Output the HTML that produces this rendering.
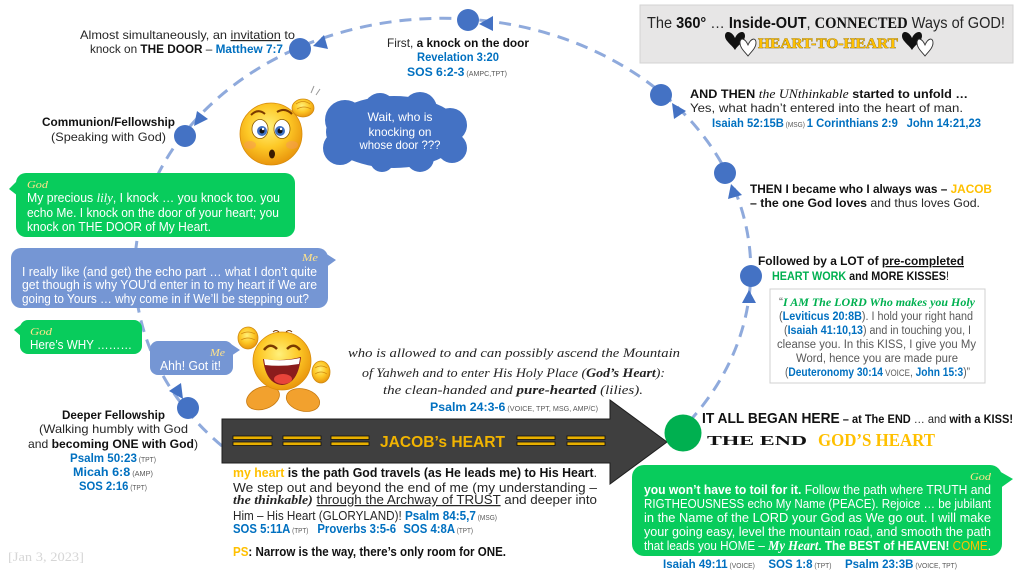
<!DOCTYPE html>
<html><head><meta charset="utf-8">
<style>
html,body{margin:0;padding:0;background:#fff;}
body{width:1022px;height:575px;overflow:hidden;}
svg{display:block;}
text{font-family:"Liberation Sans",sans-serif;font-size:12px;fill:#262626;}
.b{font-weight:bold;fill:#111;}
.bl{fill:#0070c0;font-weight:bold;}
.sm{font-size:7px;fill:#595959;font-weight:normal;}
.gd{fill:#ffc000;}
.sc{font-family:"Liberation Serif",serif;font-style:italic;}
.w{fill:#fff;font-size:12.5px;}
.lab{fill:#ffe38a;font-size:11px;font-family:"Liberation Serif",serif;font-style:italic;}
.gy{fill:#595959;font-size:11.5px;}
</style></head>
<body>
<svg width="1022" height="575" viewBox="0 0 1022 575" xmlns="http://www.w3.org/2000/svg">
<defs>
<radialGradient id="face" cx="45%" cy="38%" r="62%">
<stop offset="0" stop-color="#fff07a"/><stop offset="0.55" stop-color="#fdc826"/><stop offset="1" stop-color="#e9960d"/>
</radialGradient>
</defs>
<rect width="1022" height="575" fill="#fff"/>

<!-- dashed path -->
<path d="M 222 446 A 308 252 0 1 1 683 428" fill="none" stroke="#8faadc" stroke-width="3" stroke-dasharray="12 8"/>

<!-- nodes -->
<g fill="#4472c4">
<circle cx="468" cy="20" r="11"/>
<circle cx="300" cy="49" r="11"/>
<circle cx="185" cy="136" r="11"/>
<circle cx="188" cy="408" r="11"/>
<circle cx="661" cy="95" r="11"/>
<circle cx="725" cy="173" r="11"/>
<circle cx="751" cy="276" r="11"/>
<polygon points="479,24 493,16 493,31"/>
<polygon points="313,46 328,49 324,35"/>
<polygon points="194,126 208,119 197,111"/>
<polygon points="183,399 181,383 169,391"/>
<polygon points="672,103 686,111 674,119"/>
<polygon points="731,184 742,195 728,199"/>
<polygon points="749,290 756,303 742,303"/>
</g>

<!-- title box -->
<rect x="640" y="5" width="373" height="58" fill="#e7e6e6" stroke="#d3d3d3" stroke-width="1"/>
<g transform="translate(735,33)"><path d="M0,5 C-3,-2 -10,-3 -10,3 C-10,8 -3,12 0,17 C3,12 10,8 10,3 C10,-3 3,-2 0,5 Z" fill="#111"/></g>
<g transform="translate(748,40)"><path d="M0,5 C-3,-2 -8,-3 -8,3 C-8,8 -3,12 0,16 C3,12 8,8 8,3 C8,-3 3,-2 0,5 Z" fill="#fff" stroke="#333" stroke-width="0.9"/></g>
<g transform="translate(912,33)"><path d="M0,5 C-3,-2 -10,-3 -10,3 C-10,8 -3,12 0,17 C3,12 10,8 10,3 C10,-3 3,-2 0,5 Z" fill="#111"/></g>
<g transform="translate(925,40)"><path d="M0,5 C-3,-2 -8,-3 -8,3 C-8,8 -3,12 0,16 C3,12 8,8 8,3 C8,-3 3,-2 0,5 Z" fill="#fff" stroke="#333" stroke-width="0.9"/></g>

<!-- cloud -->
<g fill="#4472c4">
<ellipse cx="394" cy="132" rx="68" ry="36"/>
<circle cx="345" cy="120" r="20"/>
<circle cx="380" cy="109" r="16"/>
<circle cx="420" cy="109" r="17"/>
<circle cx="450" cy="125" r="17"/>
<circle cx="452" cy="148" r="15"/>
<circle cx="420" cy="158" r="14"/>
<circle cx="382" cy="160" r="12"/>
<circle cx="340" cy="148" r="17"/>
</g>

<!-- bubbles -->
<g fill="#08cc5c">
<rect x="16" y="173" width="279" height="64" rx="10"/>
<polygon points="18,180 9,189 18,196"/>
<rect x="20" y="320" width="122" height="34" rx="8"/>
<polygon points="22,324 14,330 22,337"/>
<rect x="632" y="465" width="370" height="91" rx="12"/>
<polygon points="999,471 1013,479 999,489"/>
</g>
<g fill="#7596d4">
<rect x="11" y="248" width="317" height="60" rx="10"/>
<polygon points="325,253 336,260 325,268"/>
<rect x="150" y="341" width="83" height="34" rx="8"/>
<polygon points="231,344 240,350 231,356"/>
</g>

<!-- right box -->
<rect x="770" y="289" width="215" height="94" fill="#fff" stroke="#d0d0d0" stroke-width="1"/>

<!-- big arrow -->
<polygon points="222,419 610,419 610,400 667,442 610,484 610,463 222,463" fill="#3f3f3f" stroke="#1e1e1e" stroke-width="1"/>
<g fill="#e8b000" stroke="#111" stroke-width="0.8">
<rect x="233" y="436" width="39" height="3.5"/><rect x="233" y="442" width="39" height="3.5"/>
<rect x="283" y="436" width="38" height="3.5"/><rect x="283" y="442" width="38" height="3.5"/>
<rect x="331" y="436" width="38" height="3.5"/><rect x="331" y="442" width="38" height="3.5"/>
<rect x="517" y="436" width="38" height="3.5"/><rect x="517" y="442" width="38" height="3.5"/>
<rect x="567" y="436" width="38" height="3.5"/><rect x="567" y="442" width="38" height="3.5"/>
</g>
<circle cx="683" cy="433" r="18.5" fill="#00b050"/>

<!-- confused emoji -->
<g>
<circle cx="271" cy="134" r="31" fill="url(#face)" stroke="#d98c0a" stroke-width="0.8"/>
<ellipse cx="250" cy="145" rx="6" ry="4" fill="#f59a5a" opacity="0.5"/>
<ellipse cx="292" cy="145" rx="6" ry="4" fill="#f59a5a" opacity="0.5"/>
<ellipse cx="260" cy="129" rx="8" ry="9.5" fill="#fff" stroke="#8a5a00" stroke-width="0.8"/>
<ellipse cx="282" cy="129" rx="8" ry="9.5" fill="#fff" stroke="#8a5a00" stroke-width="0.8"/>
<circle cx="262" cy="131" r="5" fill="#3d6fc0"/><circle cx="262" cy="131" r="2.5" fill="#111"/><circle cx="263" cy="129" r="1.2" fill="#fff"/>
<circle cx="280" cy="131" r="5" fill="#3d6fc0"/><circle cx="280" cy="131" r="2.5" fill="#111"/><circle cx="281" cy="129" r="1.2" fill="#fff"/>
<path d="M251 115 Q258 108 265 114" stroke="#7a3a00" stroke-width="2" fill="none"/>
<path d="M277 112 Q285 107 292 114" stroke="#7a3a00" stroke-width="2" fill="none"/>
<ellipse cx="272" cy="154" rx="3" ry="4.5" fill="#3a1a00"/>
<ellipse cx="303" cy="108" rx="11" ry="9" fill="url(#face)" stroke="#d08a10" stroke-width="0.8"/>
<path d="M296 104 Q303 99 310 104 M297 109 Q304 105 311 109" stroke="#d08a10" stroke-width="0.8" fill="none"/>
<path d="M311 93 L314 86 M316 95 L320 89" stroke="#999" stroke-width="1"/>
</g>

<!-- laughing emoji -->
<g>
<ellipse cx="263" cy="398" rx="17" ry="11" transform="rotate(-20 263 398)" fill="#f2a12e" stroke="#c77a10" stroke-width="0.8"/>
<ellipse cx="303" cy="400" rx="17" ry="11" transform="rotate(15 303 400)" fill="#f2a12e" stroke="#c77a10" stroke-width="0.8"/>
<circle cx="282" cy="361" r="29" fill="url(#face)" stroke="#d98c0a" stroke-width="0.8"/>
<path d="M264 350 Q270 342 277 349" stroke="#7a3a00" stroke-width="2.5" fill="none"/>
<path d="M287 349 Q294 342 300 350" stroke="#7a3a00" stroke-width="2.5" fill="none"/>
<path d="M273 332 Q276 329 279 332 M286 332 Q289 329 292 332" stroke="#7a3a00" stroke-width="1" fill="none"/>
<path d="M263 359 Q282 362 301 357 Q298 384 282 385 Q266 384 263 359 Z" fill="#8b1c1c"/>
<path d="M264 359 Q282 362 300 358 L299 364 Q282 367 265 365 Z" fill="#fff"/>
<ellipse cx="283" cy="379" rx="9" ry="5" fill="#e8443a"/>
<ellipse cx="248" cy="338" rx="10" ry="11" fill="url(#face)" stroke="#d08a10" stroke-width="0.8"/>
<path d="M241 334 Q248 330 255 334 M241 340 Q248 336 255 340" stroke="#d08a10" stroke-width="0.7" fill="none"/>
<ellipse cx="321" cy="372" rx="9" ry="11" fill="url(#face)" stroke="#d08a10" stroke-width="0.8"/>
<path d="M315 368 Q321 364 327 368 M315 374 Q321 370 327 374" stroke="#d08a10" stroke-width="0.7" fill="none"/>
</g>

<!-- ===== TEXT ===== -->
<text x="80" y="39" textLength="215" lengthAdjust="spacingAndGlyphs">Almost simultaneously, an <tspan text-decoration="underline">invitation</tspan> to</text>
<text x="90" y="53" textLength="193" lengthAdjust="spacingAndGlyphs">knock on <tspan class="b">THE DOOR</tspan> – <tspan class="bl">Matthew 7:7</tspan></text>
<text x="42" y="126" textLength="133" lengthAdjust="spacingAndGlyphs" class="b">Communion/Fellowship</text>
<text x="51" y="141" textLength="115" lengthAdjust="spacingAndGlyphs">(Speaking with God)</text>

<text x="387" y="47" textLength="142" lengthAdjust="spacingAndGlyphs">First, <tspan class="b">a knock on the door</tspan></text>
<text x="417" y="61" textLength="82" lengthAdjust="spacingAndGlyphs" class="bl">Revelation 3:20</text>
<text x="407" y="76" textLength="100" lengthAdjust="spacingAndGlyphs"><tspan class="bl">SOS 6:2-3</tspan><tspan class="sm"> (AMPC,TPT)</tspan></text>

<text x="400" y="121" text-anchor="middle" textLength="65" lengthAdjust="spacingAndGlyphs" style="fill:#fff">Wait, who is</text>
<text x="400" y="136" text-anchor="middle" textLength="63" lengthAdjust="spacingAndGlyphs" style="fill:#fff">knocking on</text>
<text x="400" y="149" text-anchor="middle" textLength="81" lengthAdjust="spacingAndGlyphs" style="fill:#fff">whose door ???</text>

<text x="647" y="28" textLength="358" lengthAdjust="spacingAndGlyphs" style="font-size:16px">The <tspan class="b">360°</tspan> … <tspan class="b">Inside-OUT</tspan>, <tspan class="b" style="font-family:'Liberation Serif',serif">CONNECTED</tspan> Ways of GOD!</text>
<text x="758" y="48" textLength="140" lengthAdjust="spacingAndGlyphs" style="font-family:'Liberation Serif',serif;font-weight:bold;font-size:15px;fill:#ffc000;stroke:#6b5000;stroke-width:0.6;paint-order:stroke">HEART-TO-HEART</text>

<text x="690" y="98" textLength="278" lengthAdjust="spacingAndGlyphs"><tspan class="b">AND THEN </tspan><tspan class="sc" style="font-size:13px;fill:#111">the UNthinkable</tspan><tspan class="b"> started to unfold …</tspan></text>
<text x="690" y="112" textLength="273" lengthAdjust="spacingAndGlyphs">Yes, what hadn’t entered into the heart of man.</text>
<text x="712" y="127" textLength="269" lengthAdjust="spacingAndGlyphs"><tspan class="bl">Isaiah 52:15B</tspan><tspan class="sm"> (MSG) </tspan><tspan class="bl"> 1 Corinthians 2:9 </tspan><tspan class="bl" dx="6">John 14:21,23</tspan></text>

<text x="750" y="193" textLength="242" lengthAdjust="spacingAndGlyphs"><tspan class="b">THEN I became who I always was – </tspan><tspan class="gd" style="font-weight:bold">JACOB</tspan></text>
<text x="750" y="207" textLength="230" lengthAdjust="spacingAndGlyphs"><tspan class="b">– the one God loves</tspan> and thus loves God.</text>

<text x="758" y="265" textLength="206" lengthAdjust="spacingAndGlyphs" class="b">Followed by a LOT of <tspan text-decoration="underline">pre-completed</tspan></text>
<text x="772" y="280" textLength="177" lengthAdjust="spacingAndGlyphs"><tspan class="b" style="fill:#00b050">HEART WORK</tspan><tspan class="b"> and MORE KISSES</tspan>!</text>

<text x="779" y="306" textLength="196" lengthAdjust="spacingAndGlyphs" class="gy">“<tspan style="fill:#00b050;font-weight:bold;font-family:'Liberation Serif',serif;font-style:italic">I AM The LORD Who makes you Holy</tspan></text>
<text x="779" y="320" textLength="194" lengthAdjust="spacingAndGlyphs" class="gy">(<tspan class="bl">Leviticus 20:8B</tspan>). I hold your right hand</text>
<text x="784" y="334" textLength="187" lengthAdjust="spacingAndGlyphs" class="gy">(<tspan class="bl">Isaiah 41:10,13</tspan>) and in touching you, I</text>
<text x="777" y="348" textLength="199" lengthAdjust="spacingAndGlyphs" class="gy">cleanse you. In this KISS, I give you My</text>
<text x="796" y="362" textLength="162" lengthAdjust="spacingAndGlyphs" class="gy">Word, hence you are made pure</text>
<text x="785" y="376" textLength="185" lengthAdjust="spacingAndGlyphs" class="gy">(<tspan class="bl">Deuteronomy 30:14</tspan><tspan style="font-size:9px"> VOICE</tspan>, <tspan class="bl">John 15:3</tspan>)”</text>

<text x="27" y="188" textLength="21" lengthAdjust="spacingAndGlyphs" class="lab">God</text>
<text x="27" y="202" textLength="253" lengthAdjust="spacingAndGlyphs" class="w">My precious <tspan class="sc" style="font-size:13px">lily</tspan>, I knock … you knock too. you</text>
<text x="27" y="217" textLength="252" lengthAdjust="spacingAndGlyphs" class="w">echo Me. I knock on the door of your heart; you</text>
<text x="27" y="231" textLength="184" lengthAdjust="spacingAndGlyphs" class="w">knock on THE DOOR of My Heart.</text>

<text x="302" y="261" textLength="16" lengthAdjust="spacingAndGlyphs" class="lab">Me</text>
<text x="22" y="276" textLength="295" lengthAdjust="spacingAndGlyphs" class="w">I really like (and get) the echo part … what I don’t quite</text>
<text x="22" y="289" textLength="295" lengthAdjust="spacingAndGlyphs" class="w">get though is why YOU’d enter in to my heart if We are</text>
<text x="22" y="303" textLength="287" lengthAdjust="spacingAndGlyphs" class="w">going to Yours … why come in if We’ll be stepping out?</text>

<text x="30" y="335" textLength="22" lengthAdjust="spacingAndGlyphs" class="lab">God</text>
<text x="30" y="349" textLength="102" lengthAdjust="spacingAndGlyphs" class="w">Here’s WHY ………</text>

<text x="210" y="356" textLength="15" lengthAdjust="spacingAndGlyphs" class="lab">Me</text>
<text x="160" y="370" textLength="61" lengthAdjust="spacingAndGlyphs" class="w" style="font-size:13px">Ahh! Got it!</text>

<text x="62" y="419" textLength="103" lengthAdjust="spacingAndGlyphs" class="b">Deeper Fellowship</text>
<text x="39" y="433" textLength="149" lengthAdjust="spacingAndGlyphs">(Walking humbly with God</text>
<text x="28" y="448" textLength="170" lengthAdjust="spacingAndGlyphs">and <tspan class="b">becoming ONE with God</tspan>)</text>
<text x="70" y="462" textLength="86" lengthAdjust="spacingAndGlyphs"><tspan class="bl">Psalm 50:23</tspan><tspan class="sm"> (TPT)</tspan></text>
<text x="73" y="476" textLength="80" lengthAdjust="spacingAndGlyphs"><tspan class="bl">Micah 6:8</tspan><tspan class="sm"> (AMP)</tspan></text>
<text x="79" y="490" textLength="68" lengthAdjust="spacingAndGlyphs"><tspan class="bl">SOS 2:16</tspan><tspan class="sm"> (TPT)</tspan></text>

<text x="8" y="561" textLength="76" lengthAdjust="spacingAndGlyphs" style="font-family:'Liberation Serif',serif;font-size:13px;fill:#d6d6d6">[Jan 3, 2023]</text>

<text x="348" y="357" textLength="332" lengthAdjust="spacingAndGlyphs" class="sc" style="font-size:13px;fill:#222">who is allowed to and can possibly ascend the Mountain</text>
<text x="362" y="377" textLength="303" lengthAdjust="spacingAndGlyphs" class="sc" style="font-size:13px;fill:#222">of Yahweh and to enter His Holy Place (<tspan style="font-weight:bold">God’s Heart</tspan>):</text>
<text x="383" y="394" textLength="260" lengthAdjust="spacingAndGlyphs" class="sc" style="font-size:13px;fill:#222">the clean-handed and <tspan style="font-weight:bold">pure-hearted</tspan> (lilies).</text>
<text x="430" y="411" textLength="168" lengthAdjust="spacingAndGlyphs"><tspan class="bl">Psalm 24:3-6</tspan><tspan class="sm"> (VOICE, TPT, MSG, AMP/C)</tspan></text>

<text x="380" y="447" textLength="125" lengthAdjust="spacingAndGlyphs" style="font-size:16px;font-weight:bold;fill:#f2b400">JACOB’s HEART</text>

<text x="233" y="477" textLength="364" lengthAdjust="spacingAndGlyphs" style="font-size:12.5px"><tspan class="b" style="fill:#ffc000">my heart</tspan><tspan class="b"> is the path God travels (as He leads me) to His Heart</tspan>.</text>
<text x="233" y="492" textLength="364" lengthAdjust="spacingAndGlyphs" style="font-size:12.5px">We step out and beyond the end of me (my understanding –</text>
<text x="233" y="504" textLength="364" lengthAdjust="spacingAndGlyphs" style="font-size:12.5px"><tspan class="sc" style="font-weight:bold;font-size:13px">the thinkable)</tspan> <tspan text-decoration="underline">through the Archway of TRUST</tspan> and deeper into</text>
<text x="233" y="520" textLength="264" lengthAdjust="spacingAndGlyphs" style="font-size:12.5px">Him – His Heart (GLORYLAND)! <tspan class="bl">Psalm 84:5,7</tspan><tspan class="sm"> (MSG)</tspan></text>
<text x="233" y="533" textLength="240" lengthAdjust="spacingAndGlyphs" style="font-size:12.5px"><tspan class="bl">SOS 5:11A</tspan><tspan class="sm"> (TPT)</tspan><tspan class="bl" dx="10">Proverbs 3:5-6</tspan><tspan class="bl" dx="8">SOS 4:8A</tspan><tspan class="sm"> (TPT)</tspan></text>
<text x="233" y="556" textLength="273" lengthAdjust="spacingAndGlyphs" style="font-size:12.5px"><tspan class="b" style="fill:#ffc000">PS</tspan><tspan class="b">: Narrow is the way, there’s only room for ONE.</tspan></text>

<text x="702" y="423" textLength="311" lengthAdjust="spacingAndGlyphs"><tspan class="b" style="font-size:15px">IT ALL BEGAN HERE</tspan><tspan class="b"> – at The END</tspan> … and <tspan class="b">with a KISS!</tspan></text>
<text x="707" y="445" textLength="100" lengthAdjust="spacingAndGlyphs" style="font-family:'Liberation Serif',serif;font-weight:bold;font-size:14px;fill:#111">THE END</text>
<text x="818" y="446" textLength="117" lengthAdjust="spacingAndGlyphs" style="font-family:'Liberation Serif',serif;font-weight:bold;font-size:18px;fill:#ffc000">GOD’S HEART</text>

<text x="970" y="480" textLength="21" lengthAdjust="spacingAndGlyphs" class="lab">God</text>
<text x="644" y="494" textLength="347" lengthAdjust="spacingAndGlyphs" class="w"><tspan style="font-weight:bold">you won’t have to toil for it.</tspan> Follow the path where TRUTH and</text>
<text x="644" y="508" textLength="347" lengthAdjust="spacingAndGlyphs" class="w">RIGTHEOUSNESS echo My Name (PEACE). Rejoice … be jubilant</text>
<text x="644" y="522" textLength="347" lengthAdjust="spacingAndGlyphs" class="w">in the Name of the LORD your God as We go out. I will make</text>
<text x="644" y="536" textLength="347" lengthAdjust="spacingAndGlyphs" class="w">your going easy, level the mountain road, and smooth the path</text>
<text x="644" y="550" textLength="347" lengthAdjust="spacingAndGlyphs" class="w">that leads you HOME – <tspan class="sc" style="font-weight:bold;font-size:13.5px;fill:#fff">My Heart</tspan><tspan style="font-weight:bold">. The BEST of HEAVEN! </tspan><tspan style="fill:#ffc000">COME</tspan>.</text>
<text x="663" y="568" textLength="294" lengthAdjust="spacingAndGlyphs"><tspan class="bl">Isaiah 49:11</tspan><tspan class="sm"> (VOICE)</tspan><tspan class="bl" dx="14">SOS 1:8</tspan><tspan class="sm"> (TPT)</tspan><tspan class="bl" dx="14">Psalm 23:3B</tspan><tspan class="sm"> (VOICE, TPT)</tspan></text>
</svg>
</body></html>
